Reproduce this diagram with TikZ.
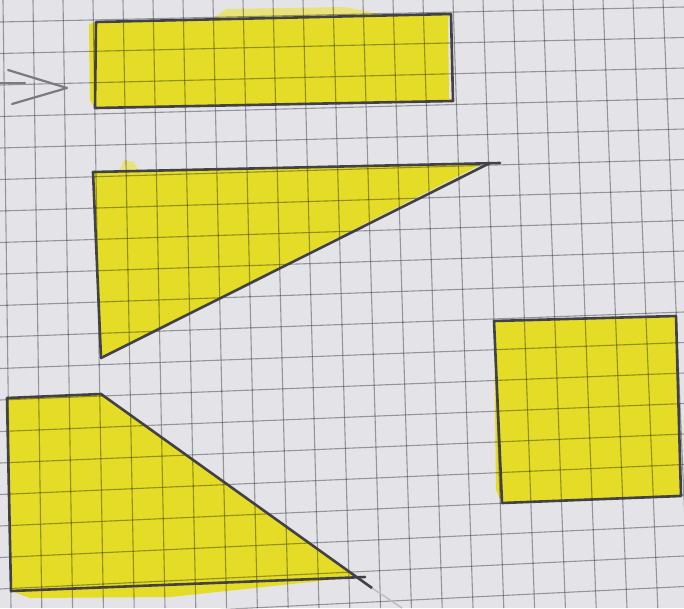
\documentclass[tikz,border=0pt]{standalone}
\usetikzlibrary{calc}

\definecolor{paper}{HTML}{E4E4E8}
\definecolor{gridgrey}{HTML}{A6A6AC}
\definecolor{pencilgrey}{HTML}{424246}
\definecolor{markeryellow}{HTML}{E4DC26}
\definecolor{lightyellow}{HTML}{E8E27A}

\tikzset{
  gridline/.style={draw=gridgrey, line width=1.1pt},
  marker/.style={fill=markeryellow},
  pencil/.style={draw=pencilgrey, line width=2.6pt, line join=round, line cap=round},
  arrowline/.style={draw=pencilgrey!70, line width=2.2pt, line cap=round, line join=round}
}

\begin{document}
\begin{tikzpicture}[x=1pt, y=-1pt]
\fill[paper] (0,0) rectangle (684,608);
\useasboundingbox (0,0) rectangle (684,608);

% corners of the shapes
\coordinate (r1) at (96,22);
\coordinate (r2) at (451,14);
\coordinate (r3) at (453,101);
\coordinate (r4) at (95,108);

\coordinate (t1) at (93,172);
\coordinate (t2) at (490,163);
\coordinate (t3) at (101,358);
\coordinate (t4) at (500,163);

\coordinate (q1) at (7,398);
\coordinate (q2) at (101,394);
\coordinate (q3) at (357,577);
\coordinate (q4) at (11,591);
\coordinate (q5) at (372,588);
\coordinate (q6) at (365,577);
\coordinate (q7) at (402,608);

\coordinate (s1) at (494,321);
\coordinate (s2) at (676,316);
\coordinate (s3) at (681,496);
\coordinate (s4) at (502,503);

\coordinate (a0) at (0,83);
\coordinate (a1) at (25,83);
\coordinate (a2) at (8,70);
\coordinate (a3) at (67,88);
\coordinate (a4) at (12,104);

% marker colour
\fill[lightyellow] (210,20) -- (226,9) -- (345,7) -- (390,16) -- cycle;
\fill[lightyellow] (118,174) -- (124,160) -- (134,162) -- (140,174) -- cycle;
\fill[marker] (89,24) -- (r1) -- (r2) -- (448,18) -- (449,98) -- (r3) -- (r4) -- (90,100) -- cycle;
\fill[marker] (t1) -- (482,164) -- (t3) -- cycle;
\fill[marker] (q1) -- (q2) -- (q3) -- (170,597) -- (30,598) -- (q4) -- cycle;
\fill[marker] (s1) -- (s2) -- (s3) -- (s4) -- (496,490) -- cycle;

% squared paper
\begin{scope}[blend mode=multiply]
\foreach \i in {0,...,22}
  \draw[gridline] ({3+30*\i},0) -- ({11+30.8*\i},608);
\foreach \j in {0,...,19}
  \draw[gridline] (0,{22+31.5*\j}) -- (684,{7+30.5*\j});
\end{scope}

% pencil outlines
\draw[pencil] (r1) -- (r2) -- (r3) -- (r4) -- cycle;
\draw[pencil] (t3) -- (t1) -- (t4);
\draw[pencil] (t2) -- (t3);
\draw[pencil] (q4) -- (q1) -- (q2) -- (q5);
\draw[pencil] (q4) -- (q6);
\draw[pencilgrey!35, line width=1.5pt] (q5) -- (q7);
\draw[pencil] (s1) -- (s2) -- (s3) -- (s4) -- cycle;

\draw[arrowline] (a0) -- (a1);
\draw[arrowline] (a2) -- (a3) -- (a4);
\end{tikzpicture}
\end{document}
